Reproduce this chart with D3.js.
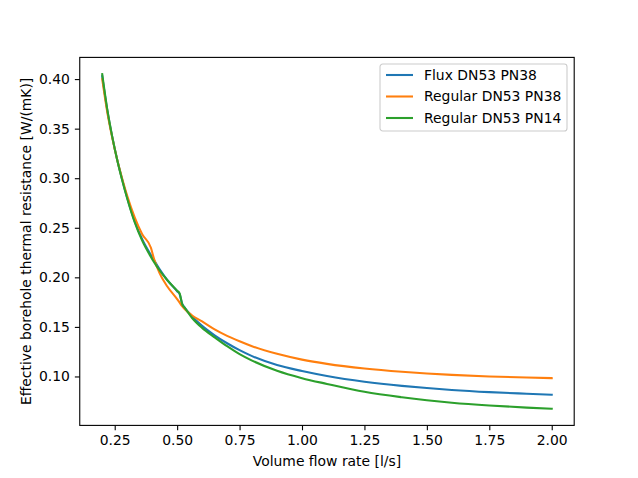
<!DOCTYPE html>
<html>
<head>
<meta charset="utf-8">
<script src="https://cdn.jsdelivr.net/npm/d3@7"></script>
<style>
  body { margin: 0; background: #fff; }
  text { font-family: "DejaVu Sans", sans-serif; fill: #000; }
</style>
</head>
<body>
<svg id="chart" width="638" height="478"></svg>
<script>
// flow rates (x) shared by every curve
const flowRate = [0.20, 0.22, 0.24, 0.26, 0.28, 0.30, 0.33, 0.36, 0.395, 0.407, 0.43, 0.46, 0.50, 0.51, 0.52, 0.53,
    0.56, 0.60, 0.65, 0.70, 0.75, 0.80, 0.90, 1.00, 1.10, 1.25, 1.40, 1.50, 1.60, 1.75, 1.90, 2.00];

// borehole resistance
const fluxPN38 = [0.403, 0.369, 0.342, 0.3186, 0.2985, 0.2803, 0.2565, 0.2385, 0.2225, 0.2175, 0.208, 0.1975, 0.186, 0.183, 0.1735, 0.1695,
    0.1605, 0.151, 0.1415, 0.1335, 0.1265, 0.1205, 0.1115, 0.1055, 0.1005, 0.0947, 0.0905, 0.0883, 0.0864, 0.0842, 0.0826, 0.0816];
const regularPN38 = [0.400, 0.367, 0.341, 0.3186, 0.2995, 0.2822, 0.2605, 0.2435, 0.2298, 0.219, 0.204, 0.191, 0.178, 0.1745, 0.171, 0.168,
    0.1615, 0.1555, 0.1475, 0.141, 0.1355, 0.1305, 0.1228, 0.117, 0.1127, 0.108, 0.1047, 0.103, 0.1016, 0.100, 0.0989, 0.0983];
const regularPN14 = [0.405, 0.370, 0.342, 0.3184, 0.298, 0.2796, 0.2556, 0.237, 0.2206, 0.2156, 0.2069, 0.1973, 0.1865, 0.1838, 0.173, 0.1695,
    0.159, 0.149, 0.1395, 0.1305, 0.1225, 0.116, 0.1057, 0.0983, 0.0925, 0.0845, 0.079, 0.076, 0.0735, 0.0707, 0.0686, 0.0675];

const seriesNames = ["Flux DN53 PN38", "Regular DN53 PN38", "Regular DN53 PN14"];
const seriesColors = ["#1f77b4", "#ff7f0e", "#2ca02c"];

const xTicks = [0.25, 0.50, 0.75, 1.00, 1.25, 1.50, 1.75, 2.00];
const yTicks = [0.10, 0.15, 0.20, 0.25, 0.30, 0.35, 0.40];

// plot box like matplotlib's default subplot
// (plotTop not "top" - top is already a window global)
const plotLeft = 79.75, plotRight = 574.2, plotTop = 57.4, plotBottom = 425.4;

const svg = d3.select("#chart");

// scales with the 5% margins
const xScale = d3.scaleLinear().domain([0.11, 2.09]).range([plotLeft, plotRight]);
const yScale = d3.scaleLinear().domain([0.05063, 0.42188]).range([plotBottom, plotTop]);

// the three series as arrays of points
const allSeries = [fluxPN38, regularPN38, regularPN14].map((vals, i) => ({
    name: seriesNames[i],
    color: seriesColors[i],
    points: flowRate.map((x, j) => [x, vals[j]])
}));

const line = d3.line()
    .x(d => xScale(d[0]))
    .y(d => yScale(d[1]))
    .curve(d3.curveMonotoneX);

svg.append("defs").append("clipPath").attr("id", "clip")
    .append("rect").attr("x", plotLeft).attr("y", plotTop)
    .attr("width", plotRight - plotLeft).attr("height", plotBottom - plotTop);

// curves
svg.append("g").attr("clip-path", "url(#clip)")
    .selectAll("path")
    .data(allSeries)
    .enter()
    .append("path")
    .attr("d", d => line(d.points))
    .attr("fill", "none")
    .attr("stroke", d => d.color)
    .attr("stroke-width", 2.08)
    .attr("stroke-linecap", "square");

// x axis
const xAxis = d3.axisBottom(xScale).tickValues(xTicks).tickFormat(d3.format(".2f"))
    .tickSizeInner(4.9).tickSizeOuter(0).tickPadding(4.9);
const gx = svg.append("g").attr("transform", `translate(0,${plotBottom})`).call(xAxis);
gx.select(".domain").remove();
gx.selectAll("line").attr("stroke", "#000").attr("stroke-width", 1.1);
gx.selectAll("text").attr("font-size", "13.9px").attr("font-family", "DejaVu Sans");

// y axis
const yAxis = d3.axisLeft(yScale).tickValues(yTicks).tickFormat(d3.format(".2f"))
    .tickSizeInner(4.9).tickSizeOuter(0).tickPadding(4.9);
const gy = svg.append("g").attr("transform", `translate(${plotLeft},0)`).call(yAxis);
gy.select(".domain").remove();
gy.selectAll("line").attr("stroke", "#000").attr("stroke-width", 1.1);
gy.selectAll("text").attr("font-size", "13.9px").attr("font-family", "DejaVu Sans");

// frame around the plot
svg.append("rect")
    .attr("x", plotLeft).attr("y", plotTop)
    .attr("width", plotRight - plotLeft).attr("height", plotBottom - plotTop)
    .attr("fill", "none").attr("stroke", "#000").attr("stroke-width", 1.1);

// axis titles
svg.append("text")
    .attr("x", (plotLeft + plotRight) / 2).attr("y", 466)
    .attr("text-anchor", "middle").attr("font-size", "13.9px")
    .text("Volume flow rate [l/s]");
svg.append("text")
    .attr("transform", `translate(31,${(plotTop + plotBottom) / 2}) rotate(-90)`)
    .attr("text-anchor", "middle").attr("font-size", "13.9px")
    .text("Effective borehole thermal resistance [W/(mK)]");

// legend
const legend = svg.append("g").attr("transform", "translate(380,64)");
legend.append("rect")
    .attr("x", 0).attr("y", 0).attr("width", 187).attr("height", 67)
    .attr("rx", 2.8).attr("fill", "#fff").attr("fill-opacity", 0.8)
    .attr("stroke", "#cccccc").attr("stroke-width", 1.1);
const rows = legend.selectAll("g.row")
    .data(allSeries)
    .enter()
    .append("g")
    .attr("class", "row")
    .attr("transform", (d, i) => `translate(0,${11 + i * 21.5})`);
rows.append("line")
    .attr("x1", 6).attr("x2", 33).attr("y1", 0).attr("y2", 0)
    .attr("stroke", d => d.color).attr("stroke-width", 2.08);
rows.append("text")
    .attr("x", 44).attr("y", 0).attr("dy", "0.35em")
    .attr("font-size", "13.9px")
    .text(d => d.name);
</script>
</body>
</html>
